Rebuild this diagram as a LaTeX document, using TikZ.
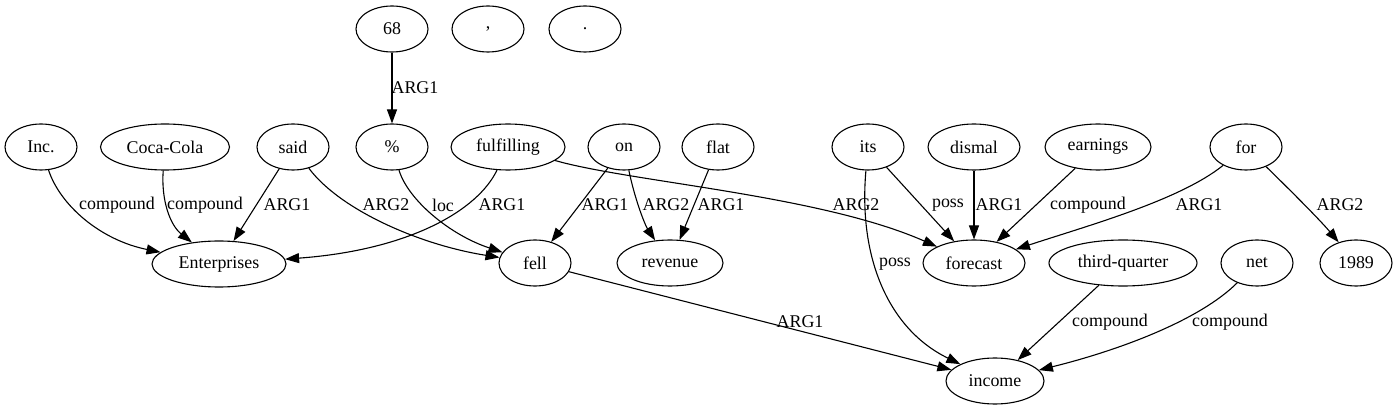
\documentclass[tikz,border=0pt]{standalone}
\usepackage{fontspec}
\setmainfont{Liberation Serif}
\usetikzlibrary{shapes.geometric,arrows.meta}
\tikzset{
  tok/.style={draw, ellipse, inner sep=0pt, minimum height=46pt, minimum width=#1, line width=1.1pt, font=\fontsize{17.9}{20}\selectfont},
  tok/.default=72pt,
  arr/.style={-{Triangle[length=14pt,width=10pt]}, line width=1.1pt},
  lab/.style={inner sep=0pt, font=\fontsize{17.9}{20}\selectfont}
}
\begin{document}
\begin{tikzpicture}[x=1pt,y=-1pt]
\useasboundingbox (0,0) rectangle (1400,411);
% row 0
\node[tok] (n68) at (392,29) {68};
\node[tok] (comma) at (488,29) {,};
\node[tok] (dot) at (585,29) {.};
% row 1
\node[tok] (inc) at (41,147) {Inc.};
\node[tok=129pt] (coca) at (165,147) {Coca-Cola};
\node[tok] (said) at (293,147) {said};
\node[tok] (pct) at (392,147) {\%};
\node[tok=114pt] (ful) at (508,147) {fulfilling};
\node[tok] (on) at (624,147) {on};
\node[tok] (flat) at (718,147) {flat};
\node[tok] (its) at (868,147) {its};
\node[tok=92pt] (dis) at (974,147) {dismal};
\node[tok=106pt] (earn) at (1098,147) {earnings};
\node[tok] (for) at (1246,147) {for};
% row 2
\node[tok=134pt] (ent) at (219,264) {Enterprises};
\node[tok] (fell) at (535,263) {fell};
\node[tok=106pt] (rev) at (670,263) {revenue};
\node[tok=102pt] (fc) at (974,263) {forecast};
\node[tok=148pt] (tq) at (1123,263) {third-quarter};
\node[tok] (net) at (1257,263) {net};
\node[tok] (y89) at (1356,263) {1989};
% row 3
\node[tok=98pt] (income) at (995,381) {income};

% edges
\draw[arr] (n68) -- (pct);
\node[lab] (l1) at (415,88) {ARG1};

\draw[arr] (inc) .. controls (60,205) and (100,240) .. (ent);
\node[lab] (l2) at (117,205) {compound};
\draw[arr] (coca) .. controls (161,200) and (170,225) .. (ent);
\node[lab] (l3) at (205,205) {compound};
\draw[arr] (said) -- (ent);
\node[lab] (l4) at (287,205) {ARG1};
\draw[arr] (said) .. controls (340,210) and (420,245) .. (fell);
\node[lab] (l5) at (386,205) {ARG2};
\draw[arr] (pct) .. controls (408,200) and (450,235) .. (fell);
\node[lab] (l6) at (443,205) {loc};
\draw[arr] (ful) .. controls (478,210) and (410,250) .. (ent);
\node[lab] (l7) at (502,205) {ARG1};
\draw[arr] (on) -- (fell);
\node[lab] (l8) at (605,205) {ARG1};
\draw[arr] (on) .. controls (635,200) and (645,225) .. (rev);
\node[lab] (l9) at (666,205) {ARG2};
\draw[arr] (flat) -- (rev);
\node[lab] (l10) at (721,205) {ARG1};
\draw[arr] (ful) .. controls (630,182) and (820,195) .. (fc);
\node[lab] (l11) at (856,205) {ARG2};
\draw[arr] (its) -- (fc);
\node[lab] (l12) at (948,205) {poss};
\draw[arr] (dis) -- (fc);
\node[lab] (l13) at (999,205) {ARG1};
\draw[arr] (earn) -- (fc);
\node[lab] (l14) at (1088,205) {compound};
\draw[arr] (for) .. controls (1180,200) and (1090,225) .. (fc);
\node[lab] (l15) at (1199,205) {ARG1};
\draw[arr] (for) .. controls (1290,190) and (1320,220) .. (y89);
\node[lab] (l16) at (1340,205) {ARG2};
\draw[arr] (its) .. controls (858,260) and (890,330) .. (income);
\node[lab] (l17) at (895,264) {poss};
\draw[arr] (fell) -- (income);
\node[lab] (l18) at (800,322) {ARG1};
\draw[arr] (tq) -- (income);
\node[lab] (l19) at (1110,322) {compound};
\draw[arr] (net) .. controls (1200,320) and (1120,350) .. (income);
\node[lab] (l20) at (1230,322) {compound};
\end{tikzpicture}
\end{document}
